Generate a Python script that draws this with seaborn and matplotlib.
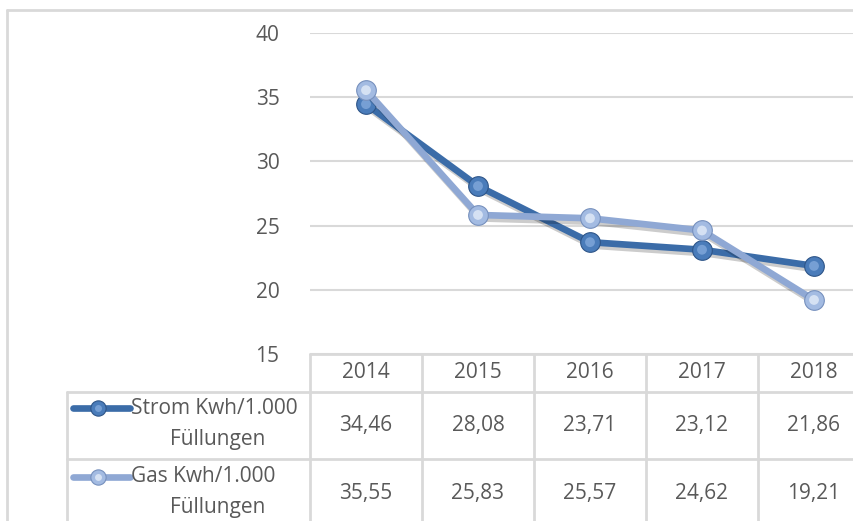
import pandas as pd
import matplotlib.pyplot as plt
import seaborn as sns
from matplotlib.lines import Line2D
from matplotlib.transforms import blended_transform_factory
import matplotlib.patheffects as pe

years = ['2014', '2015', '2016', '2017', '2018']
strom = [34.46, 28.08, 23.71, 23.12, 21.86]
gas = [35.55, 25.83, 25.57, 24.62, 19.21]
series_names = ['Strom Kwh/1.000 Füllungen', 'Gas Kwh/1.000 Füllungen']
y_ticks = [15, 20, 25, 30, 35, 40]

line_colors = ['#3B6CA8', '#8FA8D4']
face_colors = ['#4A7CBA', '#A3BBE2']
hi_colors = ['#86ACDD', '#E6EEF9']
edge_colors = ['#2E5588', '#7690BD']
text_color = '#595959'
grid_color = '#D9D9D9'

W, H = 854, 521

def fx(x):
	return x / W

def fy(y):
	return 1 - y / H

sns.set_theme(style='white')
plt.rcParams['font.family'] = ['Open Sans', 'DejaVu Sans']

df = pd.DataFrame({
	'pos': list(range(len(years))) * 2,
	'value': strom + gas,
	'series': [series_names[0]] * len(years) + [series_names[1]] * len(years),
})

fig = plt.figure(figsize=(W / 100, H / 100), dpi=100)
ax = fig.add_axes([fx(310), fy(354), fx(560), (354 - 33) / H])

fs = 15
shadow = [pe.SimpleLineShadow(offset=(1.5, -2.5), alpha=0.2, shadow_color='black'), pe.Normal()]

for i, name in enumerate(series_names):
	sub = df[df['series'] == name]
	sns.lineplot(data=sub, x='pos', y='value', color=line_colors[i], linewidth=4.8,
				 ax=ax, legend=False, sort=False, zorder=3 + i, path_effects=shadow)
	sns.scatterplot(data=sub, x='pos', y='value', color=face_colors[i], s=200,
					edgecolor=edge_colors[i], linewidth=0.8, ax=ax, legend=False, zorder=3.5 + i)
	sns.scatterplot(data=sub, x='pos', y='value', color=hi_colors[i], s=50,
					edgecolor='none', alpha=0.75, ax=ax, legend=False, zorder=3.6 + i)

ax.set_xlim(-0.5, len(years) - 0.5)
ax.set_ylim(15, 40)
ax.set_yticks(y_ticks)
ax.set_yticklabels([str(t) for t in y_ticks], color=text_color, fontsize=fs)
ax.tick_params(axis='y', length=0, pad=22)
ax.set_xticks([])
ax.set_xlabel('')
ax.set_ylabel('')
ax.grid(axis='y', color=grid_color, linewidth=1.5)
ax.set_axisbelow(True)
for s in ax.spines.values():
	s.set_visible(False)

# Outer chart border (cropped on right and bottom)
lw = 2.0
fig.add_artist(Line2D([fx(7), fx(W)], [fy(10), fy(10)], transform=fig.transFigure, color=grid_color, lw=lw))
fig.add_artist(Line2D([fx(7), fx(7)], [fy(10), 0], transform=fig.transFigure, color=grid_color, lw=lw))

# Data table below the plot
tr = blended_transform_factory(ax.transData, fig.transFigure)
n = len(years)
row_tops = [354, 392, 459]
row_bottom = 530
fig.add_artist(Line2D([-0.5, n - 0.5], [fy(354)] * 2, transform=tr, color=grid_color, lw=lw, clip_on=False))
for yy in row_tops[1:]:
	fig.add_artist(Line2D([fx(67), fx(W)], [fy(yy)] * 2, transform=fig.transFigure, color=grid_color, lw=lw))
for i in range(n + 1):
	fig.add_artist(Line2D([i - 0.5, i - 0.5], [fy(354), fy(row_bottom)], transform=tr, color=grid_color, lw=lw))
fig.add_artist(Line2D([fx(67), fx(67)], [fy(392), fy(row_bottom)], transform=fig.transFigure, color=grid_color, lw=lw))

for i, yr in enumerate(years):
	fig.text(i, fy(373), yr, transform=tr, ha='center', va='center', color=text_color, fontsize=fs)

row_centers = [425.5, 493]
for r, vals in enumerate([strom, gas]):
	for i, v in enumerate(vals):
		fig.text(i, fy(row_centers[r]), f'{v:.2f}'.replace('.', ','), transform=tr,
				 ha='center', va='center', color=text_color, fontsize=fs)

# Legend keys inside the table
label_rows = [(408, 440), (477, 508)]
for r, name in enumerate(series_names):
	first, second = name.rsplit(' ', 1)
	ly = fy(label_rows[r][0])
	fig.add_artist(Line2D([fx(73), fx(130)], [ly, ly], transform=fig.transFigure,
						  color=line_colors[r], lw=4.8, solid_capstyle='round'))
	fig.add_artist(Line2D([fx(98)], [ly], transform=fig.transFigure, marker='o', markersize=11,
						  markerfacecolor=face_colors[r], markeredgecolor=edge_colors[r],
						  markeredgewidth=0.8, lw=0))
	fig.add_artist(Line2D([fx(98)], [ly], transform=fig.transFigure, marker='o', markersize=5,
						  markerfacecolor=hi_colors[r], markeredgecolor='none', alpha=0.75, lw=0))
	fig.text(fx(131), ly, first, ha='left', va='center', color=text_color, fontsize=fs)
	fig.text(fx(218), fy(label_rows[r][1]), second, ha='center', va='center', color=text_color, fontsize=fs)

plt.savefig('out.png', dpi=100)
